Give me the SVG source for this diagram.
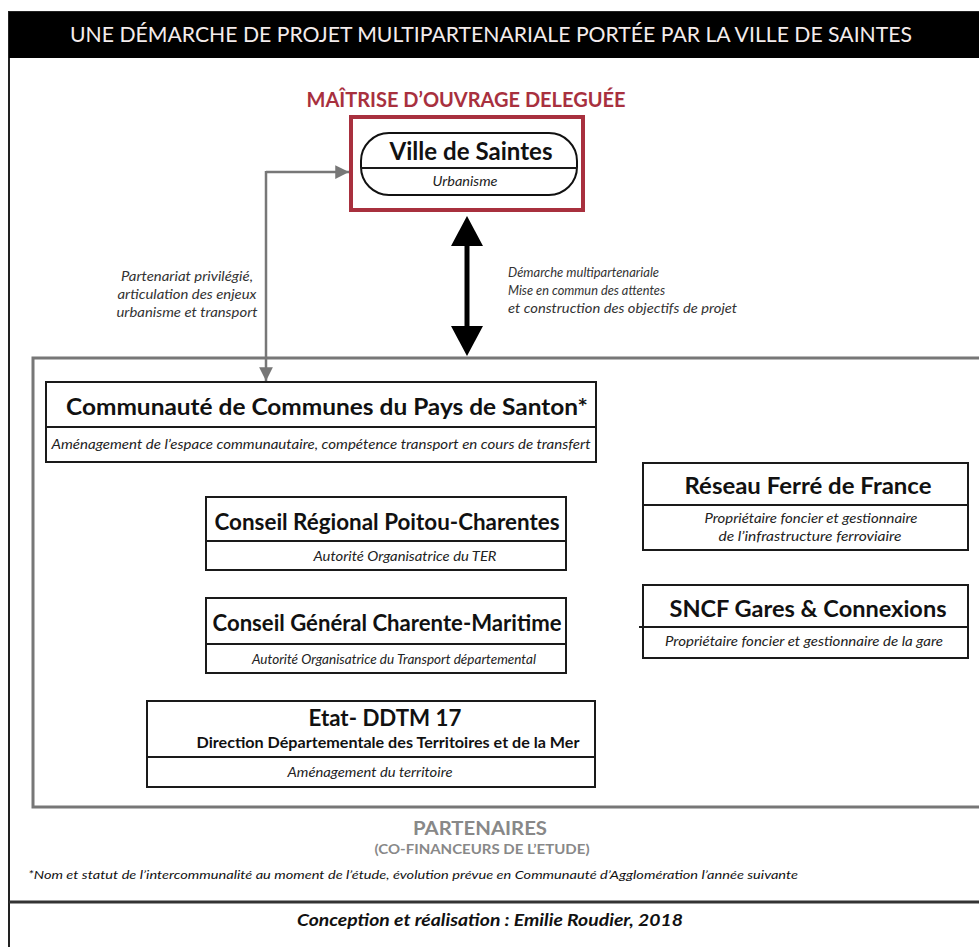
<svg xmlns="http://www.w3.org/2000/svg" width="979" height="947" viewBox="0 0 979 947">
<style>
text{font-family:Lato,"Open Sans","Liberation Sans",sans-serif;fill:#111}
.h{font-weight:700;font-size:23px;text-anchor:middle}
.s{font-style:italic;font-size:12.5px;text-anchor:middle;fill:#222}
.lbl{font-style:italic;font-size:13px;fill:#333}
.box{fill:#fff;stroke:#1a1a1a;stroke-width:2}
.div{stroke:#1a1a1a;stroke-width:2}
.gray{stroke:#777;fill:none}
</style>
<defs>
<marker id="ga" viewBox="0 0 10 10" refX="10" refY="5" markerWidth="5.5" markerHeight="5.5" orient="auto" markerUnits="strokeWidth">
<path d="M0,0 L10,5 L0,10 z" fill="#777"/>
</marker>
</defs>
<rect x="0" y="0" width="979" height="947" fill="#fff"/>
<g id="frame">
<rect x="9" y="12" width="980" height="950" fill="#fff" stroke="#222" stroke-width="2"/>
<rect x="9" y="12" width="970" height="46" fill="#000"/>
<text x="491" y="42" style="fill:#f4ecec;font-size:21px;text-anchor:middle" textLength="842" lengthAdjust="spacingAndGlyphs">UNE DÉMARCHE DE PROJET MULTIPARTENARIALE PORTÉE PAR LA VILLE DE SAINTES</text>
<line x1="9" y1="902" x2="979" y2="902" stroke="#333" stroke-width="3"/>
<text x="28" y="879" style="font-style:italic;font-size:12px" textLength="770" lengthAdjust="spacingAndGlyphs">*Nom et statut de l’intercommunalité au moment de l’étude, évolution prévue en Communauté d’Agglomération l’année suivante</text>
<text x="490" y="926" style="font-style:italic;font-weight:700;font-size:17px;text-anchor:middle" textLength="386" lengthAdjust="spacingAndGlyphs">Conception et réalisation : Emilie Roudier, 2018</text>
</g>
<g id="partenaires">
<rect x="33" y="358" width="960" height="449" fill="none" stroke="#777" stroke-width="3"/>
<text x="480" y="835" style="font-weight:700;font-size:19px;text-anchor:middle;fill:#888" textLength="134" lengthAdjust="spacingAndGlyphs">PARTENAIRES</text>
<text x="482" y="854" style="font-weight:700;font-size:13.5px;text-anchor:middle;fill:#888" textLength="215" lengthAdjust="spacingAndGlyphs">(CO-FINANCEURS DE L’ETUDE)</text>
</g>
<g id="ville">
<text x="466" y="107" style="font-weight:700;font-size:21px;text-anchor:middle;fill:#a8303e" textLength="319" lengthAdjust="spacingAndGlyphs">MAÎTRISE D’OUVRAGE DELEGUÉE</text>
<rect x="351" y="117" width="232" height="93" fill="#fff" stroke="#a8303e" stroke-width="4"/>
<rect x="361" y="133" width="216" height="62" rx="28" ry="28" fill="#fff" stroke="#111" stroke-width="2"/>
<line x1="361" y1="168" x2="577" y2="168" class="div"/>
<text x="471" y="160" style="font-weight:700;font-size:25px;text-anchor:middle" textLength="163" lengthAdjust="spacingAndGlyphs">Ville de Saintes</text>
<text x="465" y="186" class="s" style="font-size:13.5px" textLength="65" lengthAdjust="spacingAndGlyphs">Urbanisme</text>
</g>
<g id="connectors">
<path d="M266,172 L349,172" class="gray" stroke-width="2.5" marker-end="url(#ga)"/>
<path d="M266,171 L266,381" class="gray" stroke-width="2.5" marker-end="url(#ga)"/>
<line x1="467" y1="240" x2="467" y2="332" stroke="#000" stroke-width="5"/>
<path d="M467,216 L483,246 L451,246 z" fill="#000"/>
<path d="M467,356 L483,326 L451,326 z" fill="#000"/>
<text x="187" y="281" class="lbl" text-anchor="middle" textLength="132" lengthAdjust="spacingAndGlyphs">Partenariat privilégié,</text>
<text x="187" y="299" class="lbl" text-anchor="middle" textLength="139" lengthAdjust="spacingAndGlyphs">articulation des enjeux</text>
<text x="187" y="317" class="lbl" text-anchor="middle" textLength="141" lengthAdjust="spacingAndGlyphs">urbanisme et  transport</text>
<text x="508" y="277" class="lbl" textLength="151" lengthAdjust="spacingAndGlyphs">Démarche multipartenariale</text>
<text x="508" y="295" class="lbl" textLength="157" lengthAdjust="spacingAndGlyphs">Mise en commun des attentes</text>
<text x="508" y="313" class="lbl" textLength="229" lengthAdjust="spacingAndGlyphs">et construction des objectifs de projet</text>
</g>
<g id="ccps">
<rect x="46" y="382" width="550" height="80" class="box"/>
<line x1="46" y1="427" x2="596" y2="427" class="div"/>
<text x="327" y="415" class="h" textLength="522" lengthAdjust="spacingAndGlyphs">Communauté de Communes du Pays de Santon*</text>
<text x="321" y="449" class="s" textLength="539" lengthAdjust="spacingAndGlyphs">Aménagement de l’espace communautaire, compétence transport en cours de transfert</text>
</g>
<g id="cr">
<rect x="206" y="497" width="360" height="73" class="box"/>
<line x1="206" y1="541" x2="566" y2="541" class="div"/>
<text x="387" y="530" class="h" textLength="345" lengthAdjust="spacingAndGlyphs">Conseil Régional Poitou-Charentes</text>
<text x="405" y="561" class="s" textLength="183" lengthAdjust="spacingAndGlyphs">Autorité Organisatrice du TER</text>
</g>
<g id="cg">
<rect x="206" y="598" width="360" height="75" class="box"/>
<line x1="206" y1="644" x2="566" y2="644" class="div"/>
<text x="387" y="631" class="h" textLength="349" lengthAdjust="spacingAndGlyphs">Conseil Général Charente-Maritime</text>
<text x="394" y="664" class="s" textLength="284" lengthAdjust="spacingAndGlyphs">Autorité Organisatrice du Transport départemental</text>
</g>
<g id="etat">
<rect x="147" y="701" width="448" height="86" class="box"/>
<line x1="147" y1="757" x2="595" y2="757" class="div"/>
<text x="385" y="726" class="h" textLength="153" lengthAdjust="spacingAndGlyphs">Etat- DDTM 17</text>
<text x="388" y="748" style="font-weight:700;font-size:16px;text-anchor:middle" textLength="383" lengthAdjust="spacingAndGlyphs">Direction Départementale des Territoires et de la Mer</text>
<text x="370" y="777" class="s" textLength="165" lengthAdjust="spacingAndGlyphs">Aménagement du territoire</text>
</g>
<g id="rff">
<rect x="643" y="463" width="325" height="87" class="box"/>
<line x1="643" y1="505" x2="968" y2="505" class="div"/>
<text x="808" y="494" class="h" textLength="247" lengthAdjust="spacingAndGlyphs">Réseau Ferré de France</text>
<text x="811" y="523" class="s" textLength="213" lengthAdjust="spacingAndGlyphs">Propriétaire foncier et gestionnaire</text>
<text x="810" y="541" class="s" textLength="183" lengthAdjust="spacingAndGlyphs">de l’infrastructure ferroviaire</text>
</g>
<g id="sncf">
<rect x="643" y="585" width="325" height="73" class="box"/>
<line x1="639" y1="627" x2="968" y2="627" class="div"/>
<text x="808" y="617" class="h" textLength="277" lengthAdjust="spacingAndGlyphs">SNCF Gares &amp; Connexions</text>
<text x="804" y="646" class="s" textLength="278" lengthAdjust="spacingAndGlyphs">Propriétaire foncier et gestionnaire de la gare</text>
</g>
</svg>
